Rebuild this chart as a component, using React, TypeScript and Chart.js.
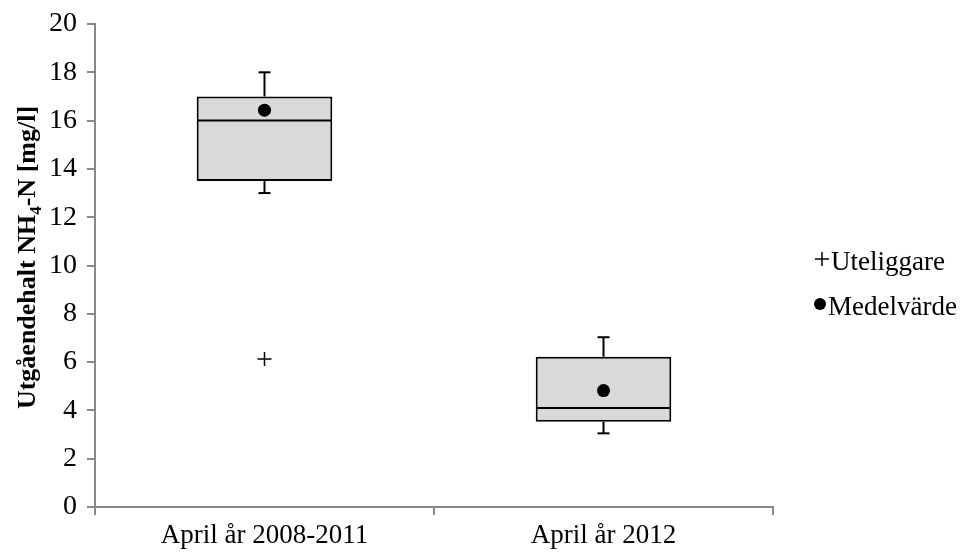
import React, { useEffect, useRef } from "react";
import { Chart, registerables } from "chart.js";

Chart.register(...registerables);

const categories = ["April år 2008-2011", "April år 2012"];
const whiskerMin = [13.0, 3.05];
const q1 = [13.5, 3.53];
const median = [16.0, 4.1];
const q3 = [17.0, 6.22];
const whiskerMax = [18.0, 7.03];
const means = [16.43, 4.82];
const outliers: (number | null)[] = [6.13, null];
const yMin = 0;
const yMax = 20;
const yStep = 2;
const legendLabels = ["Uteliggare", "Medelvärde"];
const yTitleMain = "Utgåendehalt NH";
const yTitleSub = "4";
const yTitleRest = "-N [mg/l]";

const FONT = "'Liberation Serif', 'Times New Roman', serif";
const AXIS_COLOR = "#888888";

const boxPlugin = {
  id: "boxDetails",
  afterDatasetDraw(chart: any, args: any) {
    if (args.index !== 0) return;
    const meta = chart.getDatasetMeta(0);
    const y = chart.scales.y;
    const ctx = chart.ctx;
    ctx.save();
    ctx.strokeStyle = "#000";
    ctx.lineWidth = 2;
    const seg = (x1: number, y1: number, x2: number, y2: number) => {
      ctx.beginPath();
      ctx.moveTo(x1, y1);
      ctx.lineTo(x2, y2);
      ctx.stroke();
    };
    meta.data.forEach((bar: any, i: number) => {
      const { x, width } = bar.getProps(["x", "width"], true);
      const left = x - width / 2 + 1;
      const right = x + width / 2 - 1;
      const ym = y.getPixelForValue(median[i]);
      seg(left, ym, right, ym);
      const yq3 = y.getPixelForValue(q3[i]);
      const yq1 = y.getPixelForValue(q1[i]);
      const ymax = y.getPixelForValue(whiskerMax[i]);
      const ymin = y.getPixelForValue(whiskerMin[i]);
      const cap = 6;
      seg(x, yq3, x, ymax);
      seg(x - cap, ymax, x + cap, ymax);
      seg(x, yq1, x, ymin);
      seg(x - cap, ymin, x + cap, ymin);
    });
    ctx.restore();
  },
};

const decorPlugin = {
  id: "decor",
  afterDraw(chart: any) {
    const ctx = chart.ctx;
    const area = chart.chartArea;
    ctx.save();
    // Y-axis title with subscript
    const size = 26;
    const subSize = 17;
    ctx.fillStyle = "#000";
    ctx.font = `bold ${size}px ${FONT}`;
    const w1 = ctx.measureText(yTitleMain).width;
    const w3 = ctx.measureText(yTitleRest).width;
    ctx.font = `bold ${subSize}px ${FONT}`;
    const w2 = ctx.measureText(yTitleSub).width;
    const total = w1 + w2 + w3;
    const cy = (area.top + area.bottom) / 2 - 8;
    ctx.translate(35, cy);
    ctx.rotate(-Math.PI / 2);
    ctx.textBaseline = "alphabetic";
    ctx.textAlign = "left";
    let x0 = -total / 2;
    ctx.font = `bold ${size}px ${FONT}`;
    ctx.fillText(yTitleMain, x0, 0);
    x0 += w1;
    ctx.font = `bold ${subSize}px ${FONT}`;
    ctx.fillText(yTitleSub, x0, 6);
    x0 += w2;
    ctx.font = `bold ${size}px ${FONT}`;
    ctx.fillText(yTitleRest, x0, 0);
    ctx.restore();

    // Legend
    ctx.save();
    ctx.fillStyle = "#000";
    ctx.strokeStyle = "#000";
    ctx.font = `27px ${FONT}`;
    ctx.textBaseline = "middle";
    ctx.textAlign = "left";
    // cross marker
    ctx.lineWidth = 1.5;
    ctx.beginPath();
    ctx.moveTo(815, 259);
    ctx.lineTo(829, 259);
    ctx.moveTo(822, 252);
    ctx.lineTo(822, 266);
    ctx.stroke();
    ctx.fillText(legendLabels[0], 831, 263);
    // circle marker
    ctx.beginPath();
    ctx.arc(820, 304, 6, 0, Math.PI * 2);
    ctx.fill();
    ctx.fillText(legendLabels[1], 828, 308);
    ctx.restore();
  },
};

export default function App() {
  const ref = useRef<HTMLCanvasElement | null>(null);
  useEffect(() => {
    document.body.style.margin = "0";
    const canvas = ref.current;
    if (!canvas) return;
    const chart = new Chart(canvas, {
      type: "bar",
      data: {
        labels: categories,
        datasets: [
          {
            type: "bar",
            label: "Box",
            data: q1.map((v, i) => [v, q3[i]]) as any,
            backgroundColor: "#d9d9d9",
            borderColor: "#000",
            borderWidth: 2,
            borderSkipped: false,
            barPercentage: 0.4,
            categoryPercentage: 1.0,
            order: 2,
          },
          {
            type: "line",
            label: legendLabels[1],
            data: means,
            showLine: false,
            pointStyle: "circle",
            pointRadius: 6.5,
            pointBackgroundColor: "#000",
            pointBorderColor: "#000",
            pointBorderWidth: 0,
            order: 0,
          },
          {
            type: "line",
            label: legendLabels[0],
            data: outliers,
            showLine: false,
            pointStyle: "cross",
            pointRadius: 7,
            pointBorderColor: "#000",
            pointBorderWidth: 1.5,
            order: 0,
          },
        ],
      },
      options: {
        responsive: false,
        animation: false,
        layout: { padding: { top: 24, right: 191, left: 0, bottom: 0 } },
        plugins: {
          legend: { display: false },
          tooltip: { enabled: false },
        },
        scales: {
          x: {
            offset: true,
            grid: {
              offset: true,
              drawOnChartArea: false,
              drawTicks: true,
              tickLength: 8,
              color: AXIS_COLOR,
              lineWidth: 2,
            },
            border: { color: AXIS_COLOR, width: 2 },
            ticks: {
              color: "#000",
              font: { family: FONT, size: 27 },
              padding: 5,
              maxRotation: 0,
            },
            afterFit: (s: any) => {
              s.height = 45;
              s.paddingLeft = 0;
              s.paddingRight = 0;
            },
          },
          y: {
            min: yMin,
            max: yMax,
            grid: {
              drawOnChartArea: false,
              drawTicks: true,
              tickLength: 8,
              color: AXIS_COLOR,
              lineWidth: 2,
            },
            border: { color: AXIS_COLOR, width: 2 },
            ticks: {
              stepSize: yStep,
              color: "#000",
              font: { family: FONT, size: 28 },
              padding: 10,
            },
            afterFit: (s: any) => {
              s.width = 95;
              s.paddingTop = 0;
              s.paddingBottom = 0;
            },
          },
        },
      },
      plugins: [boxPlugin, decorPlugin],
    });
    return () => chart.destroy();
  }, []);
  return (
    <div style={{ width: 964, height: 552 }}>
      <canvas ref={ref} width={964} height={552} style={{ display: "block" }} />
    </div>
  );
}
